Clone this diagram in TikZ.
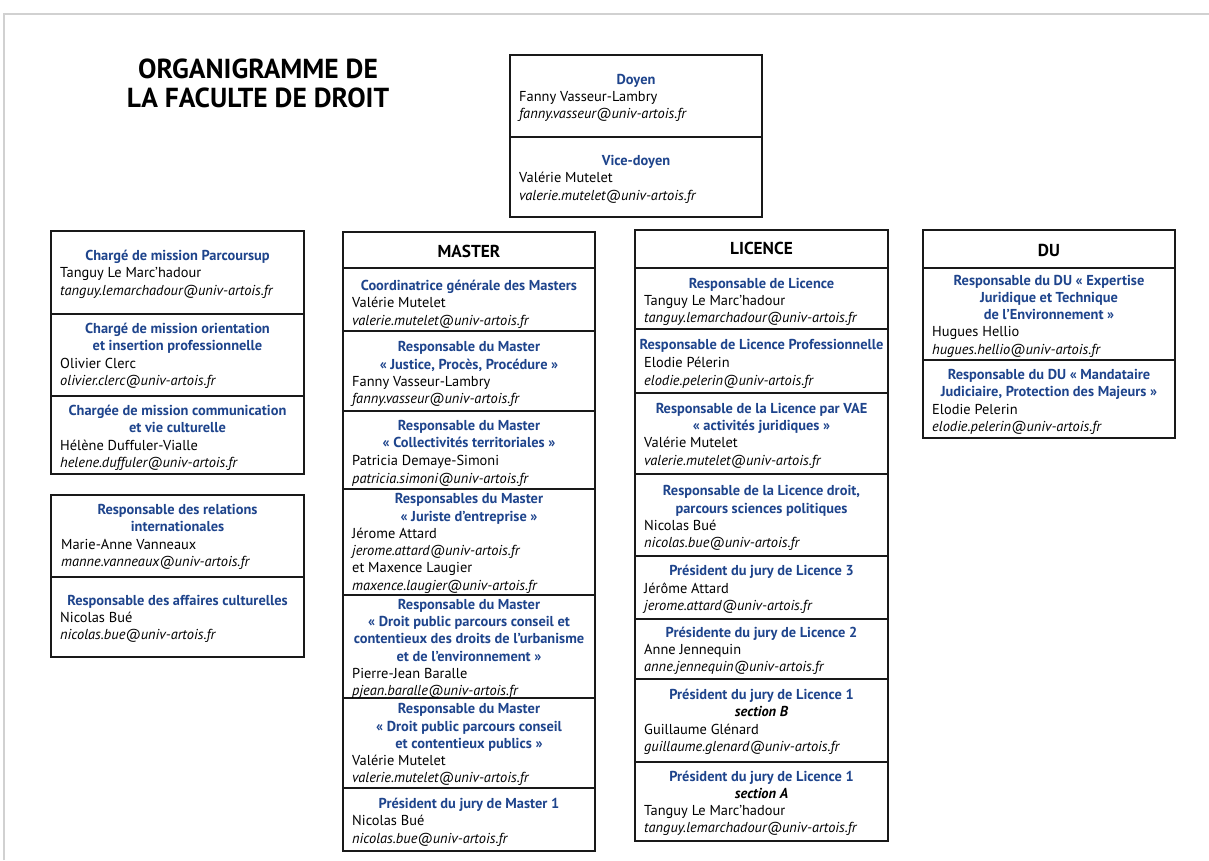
\documentclass[tikz,border=0pt]{standalone}
\usepackage{fontspec}
\setmainfont{PT Sans}
\definecolor{tblue}{RGB}{30,68,140}
\newcounter{tn}
\newcommand\ttl[3]{\stepcounter{tn}\node[ttlst] (t\arabic{tn}) at (#1,#2) {#3};}
\newcommand\nm[3]{\stepcounter{tn}\node[nmst] (t\arabic{tn}) at (#1,#2) {#3};}
\newcommand\ml[3]{\stepcounter{tn}\node[mlst] (t\arabic{tn}) at (#1,#2) {#3};}
\newcommand\hd[3]{\stepcounter{tn}\node[hdst] (t\arabic{tn}) at (#1,#2) {#3};}
\newcommand\sect[3]{\stepcounter{tn}\node[secst] (t\arabic{tn}) at (#1,#2) {#3};}
\tikzset{
  ttlst/.style={anchor=base, inner sep=0pt, text=tblue, font=\fontsize{14.4}{16}\selectfont\bfseries},
  nmst/.style={anchor=base west, inner sep=0pt, font=\fontsize{14.4}{16}\selectfont},
  mlst/.style={anchor=base west, inner sep=0pt, font=\fontsize{14.4}{16}\selectfont\itshape},
  hdst/.style={anchor=base, inner sep=0pt, font=\fontsize{17.3}{19}\selectfont\bfseries},
  secst/.style={anchor=base, inner sep=0pt, font=\fontsize{14.4}{16}\selectfont\bfseries\itshape},
  box/.style={draw=black!90, line width=1.3pt},
  frame/.style={draw=black!18, line width=1.5pt},
  titlest/.style={anchor=base, inner sep=0pt, font=\fontsize{27.5}{30}\selectfont\bfseries}
}
\begin{document}
\begin{tikzpicture}[x=1pt,y=-1pt]
\useasboundingbox (0,0) rectangle (1209,860);
\draw[frame] (4,860) -- (4,14) -- (1209,14);
% title
\node[titlest] (title1) at (258,78) {ORGANIGRAMME DE};
\node[titlest] (title2) at (258,107) {LA FACULTE DE DROIT};
% Doyen
\draw[box] (510,55) rectangle (762,217);
\draw[box] (510,137) -- (762,137);
\ttl{636}{84}{Doyen}
\nm{519}{101}{Fanny Vasseur-Lambry}
\ml{519}{118}{fanny.vasseur@univ-artois.fr}
\ttl{636}{165}{Vice-doyen}
\nm{519}{182}{Valérie Mutelet}
\ml{519}{200}{valerie.mutelet@univ-artois.fr}
% Left box 1
\draw[box] (51,231) rectangle (304,474);
\draw[box] (51,314) -- (304,314);
\draw[box] (51,396) -- (304,396);
\ttl{177.5}{260}{Chargé de mission Parcoursup}
\nm{60}{277}{Tanguy Le Marc’hadour}
\ml{60}{295}{tanguy.lemarchadour@univ-artois.fr}
\ttl{177.5}{333}{Chargé de mission orientation}
\ttl{177.5}{350}{et insertion professionnelle}
\nm{60}{368}{Olivier Clerc}
\ml{60}{385}{olivier.clerc@univ-artois.fr}
\ttl{177.5}{415}{Chargée de mission communication}
\ttl{177.5}{432}{et vie culturelle}
\nm{60}{450}{Hélène Duffuler-Vialle}
\ml{60}{467}{helene.duffuler@univ-artois.fr}
% Left box 2
\draw[box] (51,495) rectangle (304,657);
\draw[box] (51,577) -- (304,577);
\ttl{177.5}{514}{Responsable des relations}
\ttl{177.5}{531}{internationales}
\nm{61}{549}{Marie-Anne Vanneaux}
\ml{61}{566}{manne.vanneaux@univ-artois.fr}
\ttl{177.5}{605}{Responsable des affaires culturelles}
\nm{60}{622}{Nicolas Bué}
\ml{60}{639}{nicolas.bue@univ-artois.fr}
% Master
\draw[box] (343,232) rectangle (595,851);
\foreach \yy in {268,331,411,489,595,698,788} \draw[box] (343,\yy) -- (595,\yy);
\hd{469}{257}{MASTER}
\ttl{469}{290}{Coordinatrice générale des Masters}
\nm{352}{307}{Valérie Mutelet}
\ml{352}{325}{valerie.mutelet@univ-artois.fr}
\ttl{469}{351}{Responsable du Master}
\ttl{469}{369}{«~Justice, Procès, Procédure~»}
\nm{352}{386}{Fanny Vasseur-Lambry}
\ml{352}{403}{fanny.vasseur@univ-artois.fr}
\ttl{469}{430}{Responsable du Master}
\ttl{469}{447}{«~Collectivités territoriales~»}
\nm{352}{465}{Patricia Demaye-Simoni}
\ml{352}{483}{patricia.simoni@univ-artois.fr}
\ttl{469}{503}{Responsables du Master}
\ttl{469}{521}{«~Juriste d'entreprise~»}
\nm{352}{538}{Jérome Attard}
\ml{352}{555}{jerome.attard@univ-artois.fr}
\nm{352}{572}{et Maxence Laugier}
\ml{352}{590}{maxence.laugier@univ-artois.fr}
\ttl{469}{609}{Responsable du Master}
\ttl{469}{626}{«~Droit public parcours conseil et}
\ttl{469}{643}{contentieux des droits de l’urbanisme}
\ttl{469}{661}{et de l’environnement~»}
\nm{352}{678}{Pierre-Jean Baralle}
\ml{352}{695}{pjean.baralle@univ-artois.fr}
\ttl{469}{713}{Responsable du Master}
\ttl{469}{731}{«~Droit public parcours conseil}
\ttl{469}{748}{et contentieux publics~»}
\nm{352}{765}{Valérie Mutelet}
\ml{352}{782}{valerie.mutelet@univ-artois.fr}
\ttl{469}{808}{Président du jury de Master 1}
\nm{352}{825}{Nicolas Bué}
\ml{352}{843}{nicolas.bue@univ-artois.fr}
% Licence
\draw[box] (635,230) rectangle (888,841);
\foreach \yy in {268,329,393,474,556,619,679,762} \draw[box] (635,\yy) -- (888,\yy);
\hd{761.5}{254}{LICENCE}
\ttl{761.5}{288}{Responsable de Licence}
\nm{644}{305}{Tanguy Le Marc'hadour}
\ml{644}{322}{tanguy.lemarchadour@univ-artois.fr}
\ttl{761.5}{349}{Responsable de Licence Professionnelle}
\nm{644}{367}{Elodie Pélerin}
\ml{644}{385}{elodie.pelerin@univ-artois.fr}
\ttl{761.5}{413}{Responsable de la Licence par VAE}
\ttl{761.5}{430}{«~activités juridiques~»}
\nm{644}{447}{Valérie Mutelet}
\ml{644}{465}{valerie.mutelet@univ-artois.fr}
\ttl{761.5}{495}{Responsable de la Licence droit,}
\ttl{761.5}{513}{parcours sciences politiques}
\nm{644}{530}{Nicolas Bué}
\ml{644}{547}{nicolas.bue@univ-artois.fr}
\ttl{761.5}{575}{Président du jury de Licence 3}
\nm{644}{593}{Jérôme Attard}
\ml{644}{610}{jerome.attard@univ-artois.fr}
\ttl{761.5}{637}{Présidente du jury de Licence 2}
\nm{644}{654}{Anne Jennequin}
\ml{644}{671}{anne.jennequin@univ-artois.fr}
\ttl{761.5}{699}{Président du jury de Licence 1}
\sect{761.5}{716}{section B}
\nm{644}{734}{Guillaume Glénard}
\ml{644}{751}{guillaume.glenard@univ-artois.fr}
\ttl{761.5}{781}{Président du jury de Licence 1}
\sect{761.5}{798}{section A}
\nm{644}{815}{Tanguy Le Marc'hadour}
\ml{644}{832}{tanguy.lemarchadour@univ-artois.fr}
% DU
\draw[box] (923,230) rectangle (1175,438);
\draw[box] (923,268) -- (1175,268);
\draw[box] (923,360) -- (1175,360);
\hd{1049}{256}{DU}
\ttl{1049}{285}{Responsable du DU «~Expertise}
\ttl{1049}{302}{Juridique et Technique}
\ttl{1049}{319}{de l'Environnement~»}
\nm{932}{336}{Hugues Hellio}
\ml{932}{354}{hugues.hellio@univ-artois.fr}
\ttl{1049}{379}{Responsable du DU «~Mandataire}
\ttl{1049}{396}{Judiciaire, Protection des Majeurs~»}
\nm{932}{414}{Elodie Pelerin}
\ml{932}{431}{elodie.pelerin@univ-artois.fr}
\end{tikzpicture}
\end{document}
